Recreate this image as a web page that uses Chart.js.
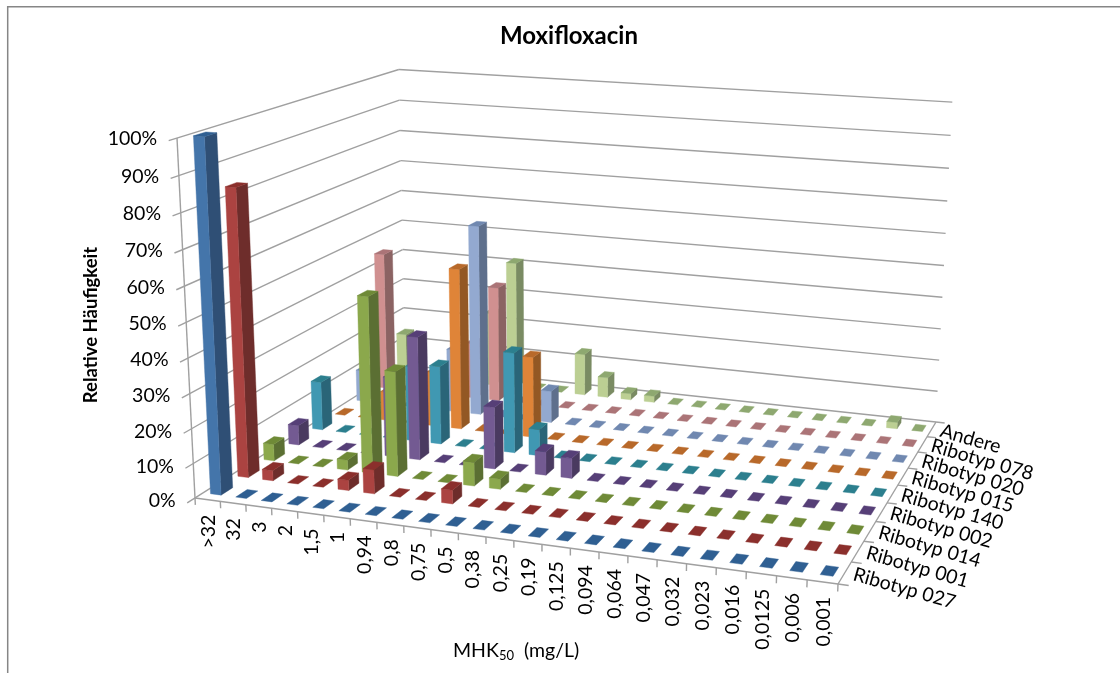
<!DOCTYPE html>
<html lang="de">
<head>
<meta charset="utf-8">
<title>Moxifloxacin</title>
<script src="https://cdn.jsdelivr.net/npm/chart.js@4"></script>
<style>
  html, body { margin: 0; background: #fff; }
  canvas { display: block; }
</style>
</head>
<body>
<canvas id="chart" width="1120" height="673"></canvas>
<script>
// categories and tick labels
const categories = ['>32', '32', '3', '2', '1,5', '1', '0,94', '0,8', '0,75', '0,5', '0,38', '0,25',
  '0,19', '0,125', '0,094', '0,064', '0,047', '0,032', '0,023', '0,016', '0,0125', '0,006', '0,001'];
const seriesNames = ['Ribotyp 027', 'Ribotyp 001', 'Ribotyp 014', 'Ribotyp 002', 'Ribotyp 140',
  'Ribotyp 015', 'Ribotyp 020', 'Ribotyp 078', 'Andere'];
const valueTicks = [0, 10, 20, 30, 40, 50, 60, 70, 80, 90, 100];

// values in percent
const ribotyp027 = [100, 0, 0, 0, 0, 0, 0, 0, 0, 0, 0, 0, 0, 0, 0, 0, 0, 0, 0, 0, 0, 0, 0];
const ribotyp001 = [83.5, 3, 0, 0, 3, 7, 0, 0, 4, 0, 0, 0, 0, 0, 0, 0, 0, 0, 0, 0, 0, 0, 0];
const ribotyp014 = [5, 0, 0, 3, 52, 31, 0, 0, 7, 3, 0, 0, 0, 0, 0, 0, 0, 0, 0, 0, 0, 0, 0];
const ribotyp002 = [6, 0, 0, 0, 24, 37, 0, 0, 18.5, 0, 7, 6, 0, 0, 0, 0, 0, 0, 0, 0, 0, 0, 0];
const ribotyp140 = [15, 0, 0, 0, 23, 24, 0, 0, 30.5, 8, 0, 0, 0, 0, 0, 0, 0, 0, 0, 0, 0, 0, 0];
const ribotyp015 = [0, 0, 9, 0, 17, 50, 0, 0, 25, 0, 0, 0, 0, 0, 0, 0, 0, 0, 0, 0, 0, 0, 0];
const ribotyp020 = [10, 0, 0, 0, 20, 60, 0, 0, 10, 0, 0, 0, 0, 0, 0, 0, 0, 0, 0, 0, 0, 0, 0];
const ribotyp078 = [44.5, 0, 0, 0, 18, 37, 0, 0, 0, 0, 0, 0, 0, 0, 0, 0, 0, 0, 0, 0, 0, 0, 0];
const andere = [14, 0, 0, 0, 24, 41.5, 0, 0, 13.5, 6.5, 2, 2, 0, 0, 0, 0, 0, 0, 0, 0, 0, 2, 0];
const seriesValues = [ribotyp027, ribotyp001, ribotyp014, ribotyp002, ribotyp140, ribotyp015, ribotyp020, ribotyp078, andere];

// face colours per series
const frontColors = ['#4475aa', '#ab4341', '#8ba84c', '#735a92', '#4098b2', '#df8438', '#93a9d0', '#d09090', '#bccf93'];
const sideColors = ['#2f4f75', '#6e2d2b', '#5b6f33', '#4a3a60', '#2a6578', '#935824', '#5e6f8c', '#8b6363', '#7a8b63'];
const topColors = ['#2f5f92', '#8b2f2c', '#6f8a37', '#563f77', '#2c7f8e', '#b8692a', '#7088b0', '#ab7477', '#8ea870'];

const FONT = 'Lato, "Open Sans", sans-serif';
const TEXT = '#000';
const GRID = '#a0a0a0';
const BAR_FILL = 0.42; // share of a cell taken by a bar

// --- 3D box to screen ---
// Floor corners on screen, where the vertical edges meet, and the top of the near edge
const floorCorners = [[195, 498], [838, 584], [936, 422], [405, 365]];
const verticalVanish = [560, 7800];
const topNearY = 138;

// floor homography (unit square -> quad)
const [q0, q1, q2, q3] = floorCorners;
const dx1 = q1[0] - q2[0], dx2 = q3[0] - q2[0], sx = q0[0] - q1[0] + q2[0] - q3[0];
const dy1 = q1[1] - q2[1], dy2 = q3[1] - q2[1], sy = q0[1] - q1[1] + q2[1] - q3[1];
const den = dx1 * dy2 - dx2 * dy1;
const g = (sx * dy2 - dx2 * sy) / den;
const h = (dx1 * sy - sx * dy1) / den;
const H = [q1[0] - q0[0] + g * q1[0], q3[0] - q0[0] + h * q3[0], q0[0],
           q1[1] - q0[1] + g * q1[1], q3[1] - q0[1] + h * q3[1], q0[1],
           g, h, 1];

const floorH = (u, v) => [H[0] * u + H[1] * v + H[2], H[3] * u + H[4] * v + H[5], H[6] * u + H[7] * v + H[8]];
// how fast a point moves towards the vanishing point per unit of height
const heightScale = (topNearY - q0[1]) / (verticalVanish[1] - topNearY);

const project = (u, v, w) => {
  const f = floorH(u, v);
  const W = f[2] + w * heightScale;
  return [(f[0] + w * heightScale * verticalVanish[0]) / W, (f[1] + w * heightScale * verticalVanish[1]) / W];
};

const polygon = (ctx, points, color) => {
  ctx.beginPath();
  points.forEach((p, i) => { const s = project(p[0], p[1], p[2]); i ? ctx.lineTo(s[0], s[1]) : ctx.moveTo(s[0], s[1]); });
  ctx.closePath();
  ctx.fillStyle = color;
  ctx.fill();
  ctx.lineWidth = 0.4;
  ctx.strokeStyle = color;
  ctx.stroke();
};

const line3d = (ctx, a, b) => {
  const s = project(a[0], a[1], a[2]), e = project(b[0], b[1], b[2]);
  ctx.beginPath();
  ctx.moveTo(s[0], s[1]);
  ctx.lineTo(e[0], e[1]);
  ctx.stroke();
};

// Bar controller that draws its elements as boxes in the 3D frame
class Bar3dController extends Chart.BarController {
  draw() {
    const ctx = this.chart.ctx;
    const meta = this.getMeta();
    const dataset = this.getDataset();
    const xScale = meta.xScale, yScale = meta.yScale, zScale = this.chart.scales.z;
    const cellU = 1 / xScale.getLabels().length;
    const cellV = 1 / zScale.getLabels().length;
    const vMid = (zScale.getPixelForValue(this.index) - zScale.left) / zScale.width;
    const v0 = vMid - cellV * BAR_FILL / 2, v1 = vMid + cellV * BAR_FILL / 2;

    ctx.save();
    for (let i = 0; i < dataset.data.length; i++) {
      const parsed = this.getParsed(i);
      const uMid = (xScale.getPixelForValue(parsed.x) - xScale.left) / xScale.width;
      const u0 = uMid - cellU * BAR_FILL / 2, u1 = uMid + cellU * BAR_FILL / 2;
      const w = (yScale.bottom - yScale.getPixelForValue(parsed.y)) / yScale.height;
      if (w > 0) {
        polygon(ctx, [[u1, v0, 0], [u1, v1, 0], [u1, v1, w], [u1, v0, w]], dataset.sideColor);
        polygon(ctx, [[u0, v0, 0], [u1, v0, 0], [u1, v0, w], [u0, v0, w]], dataset.backgroundColor);
      }
      polygon(ctx, [[u0, v0, w], [u1, v0, w], [u1, v1, w], [u0, v1, w]], dataset.topColor);
    }
    ctx.restore();
  }
}
Bar3dController.id = 'bar3d';
Bar3dController.defaults = Chart.BarController.defaults;
Bar3dController.overrides = Chart.BarController.overrides;
Chart.register(Bar3dController);

// Frame, walls, floor and ticks
const wallsPlugin = {
  id: 'walls',
  beforeDatasetsDraw(chart) {
    const ctx = chart.ctx, yScale = chart.scales.y;
    ctx.save();
    ctx.strokeStyle = '#868686';
    ctx.lineWidth = 1.5;
    ctx.beginPath();
    ctx.moveTo(7.7, 673);
    ctx.lineTo(7.7, 6.7);
    ctx.lineTo(1120, 6.7);
    ctx.stroke();

    ctx.strokeStyle = GRID;
    ctx.lineWidth = 1.4;
    valueTicks.forEach(t => {
      const w = (yScale.bottom - yScale.getPixelForValue(t)) / yScale.height;
      line3d(ctx, [0, -0.03, w], [0, 1, w]);
      line3d(ctx, [0, 1, w], [1, 1, w]);
    });
    line3d(ctx, [0, 0, 0], [0, 0, 1]);
    line3d(ctx, [0, 0, 0], [1, 0, 0]);
    line3d(ctx, [1, 0, 0], [1, 1, 0]);
    for (let i = 0; i <= categories.length; i++) {
      const u = i / categories.length;
      line3d(ctx, [u, 0, 0], [u, 0, -0.02]);
    }
    for (let j = 0; j <= seriesNames.length; j++) {
      const v = j / seriesNames.length;
      line3d(ctx, [1, v, 0], [1.015, v, 0]);
    }
    ctx.restore();
  },
  afterDatasetsDraw(chart) {
    const ctx = chart.ctx, yScale = chart.scales.y, xScale = chart.scales.x, zScale = chart.scales.z;
    ctx.save();
    ctx.fillStyle = TEXT;

    // value axis labels
    ctx.font = '19.5px ' + FONT;
    ctx.textAlign = 'right';
    ctx.textBaseline = 'middle';
    valueTicks.forEach(t => {
      const w = (yScale.bottom - yScale.getPixelForValue(t)) / yScale.height;
      const p = project(0, -0.03, w);
      ctx.fillText(t + '%', p[0] - 11.5, p[1] - 2);
    });

    // category labels, turned
    ctx.textBaseline = 'middle';
    categories.forEach((label, i) => {
      const u = (xScale.getPixelForValue(i) - xScale.left) / xScale.width;
      const p = project(u, 0, 0);
      ctx.save();
      ctx.translate(p[0] + 1, p[1] + 15);
      ctx.rotate(-Math.PI / 2);
      ctx.fillText(label, 0, 0);
      ctx.restore();
    });

    // series labels along the right edge
    ctx.textAlign = 'left';
    seriesNames.forEach((label, j) => {
      const v = (zScale.getPixelForValue(j) - zScale.left) / zScale.width;
      const p = project(1, v, 0);
      ctx.save();
      ctx.translate(p[0] + 9, p[1] + 1);
      ctx.rotate(16 * Math.PI / 180);
      ctx.fillText(label, 0, 0);
      ctx.restore();
    });

    // axis titles
    ctx.save();
    ctx.font = 'bold 18.5px ' + FONT;
    ctx.textAlign = 'center';
    ctx.translate(91, 325);
    ctx.rotate(-Math.PI / 2);
    ctx.fillText('Relative Häufigkeit', 0, 0);
    ctx.restore();

    ctx.textAlign = 'left';
    ctx.textBaseline = 'alphabetic';
    let x = 453;
    const y = 657;
    ctx.font = '19.5px ' + FONT;
    ctx.fillText('MHK', x, y);
    x += ctx.measureText('MHK').width;
    ctx.font = '13px ' + FONT;
    ctx.fillText('50', x, y + 3);
    x += ctx.measureText('50').width + 10;
    ctx.font = '19.5px ' + FONT;
    ctx.fillText('(mg/L)', x, y);
    ctx.restore();
  }
};

const chart = new Chart(document.getElementById('chart'), {
  type: 'bar3d',
  data: {
    labels: categories,
    datasets: seriesValues.map((values, j) => ({
      label: seriesNames[j],
      data: values,
      backgroundColor: frontColors[j],
      sideColor: sideColors[j],
      topColor: topColors[j],
      clip: false
    }))
  },
  options: {
    responsive: false,
    animation: false,
    layout: { padding: { left: 18 } },
    plugins: {
      legend: { display: false },
      tooltip: { enabled: false },
      title: {
        display: true,
        text: 'Moxifloxacin',
        color: TEXT,
        font: { family: FONT, size: 24, weight: 'bold' },
        padding: { top: 22, bottom: 10 }
      }
    },
    scales: {
      x: { type: 'category', display: false, offset: true },
      z: { type: 'category', axis: 'x', position: 'bottom', display: false, offset: true, labels: seriesNames },
      y: { type: 'linear', display: false, min: 0, max: 100 }
    }
  },
  plugins: [wallsPlugin]
});
</script>
</body>
</html>
